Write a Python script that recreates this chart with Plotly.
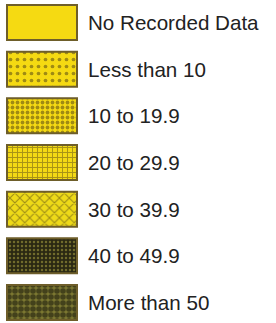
import plotly.graph_objects as go

categories = ["No Recorded Data", "Less than 10", "10 to 19.9", "20 to 29.9",
              "30 to 39.9", "40 to 49.9", "More than 50"]
values = [1, 1, 1, 1, 1, 1, 1]

base_colors = ["#F5DA12", "#F5DA12", "#F5DA12", "#F3D914", "#EEDA18", "#2A2812", "#7A7630"]
pattern_shapes = ["", ".", ".", "+", "x", ".", "."]
pattern_fg = ["#333", "#4a3c14", "#4a3c14", "#5a4c18", "#4a3c14", "#B5AE45", "#0c0c06"]
pattern_size = [8, 7, 5, 5, 7, 4, 6]
pattern_solidity = [0.3, 0.22, 0.45, 0.35, 0.28, 0.3, 0.68]

fig = go.Figure()
for i, cat in enumerate(categories):
    fig.add_trace(go.Bar(
        x=[values[i]], y=[cat], orientation="h", width=0.75,
        marker=dict(
            color=base_colors[i],
            line=dict(color="#6E5E2A", width=2),
            pattern=dict(shape=pattern_shapes[i], fgcolor=pattern_fg[i],
                         size=pattern_size[i], solidity=pattern_solidity[i],
                         fillmode="overlay"),
        ),
        showlegend=False, hoverinfo="skip",
    ))
    fig.add_annotation(x=1.13, y=cat, text=cat, showarrow=False,
                       xanchor="left", yanchor="middle",
                       font=dict(family="Liberation Sans, Arial, sans-serif",
                                 size=20.6, color="#222222"))

fig.update_layout(
    width=276, height=323,
    margin=dict(l=0, r=0, t=0, b=0),
    paper_bgcolor="white", plot_bgcolor="white",
    xaxis=dict(range=[-0.1, 3.843], visible=False, fixedrange=True),
    yaxis=dict(range=[6.439, -0.482], visible=False, type="category",
               categoryorder="array", categoryarray=categories, fixedrange=True),
    bargap=0,
)
fig.write_html("out.html",
               config={"displayModeBar": False, "staticPlot": True},
               post_script="document.body.style.margin='0';document.body.style.overflow='hidden';")
